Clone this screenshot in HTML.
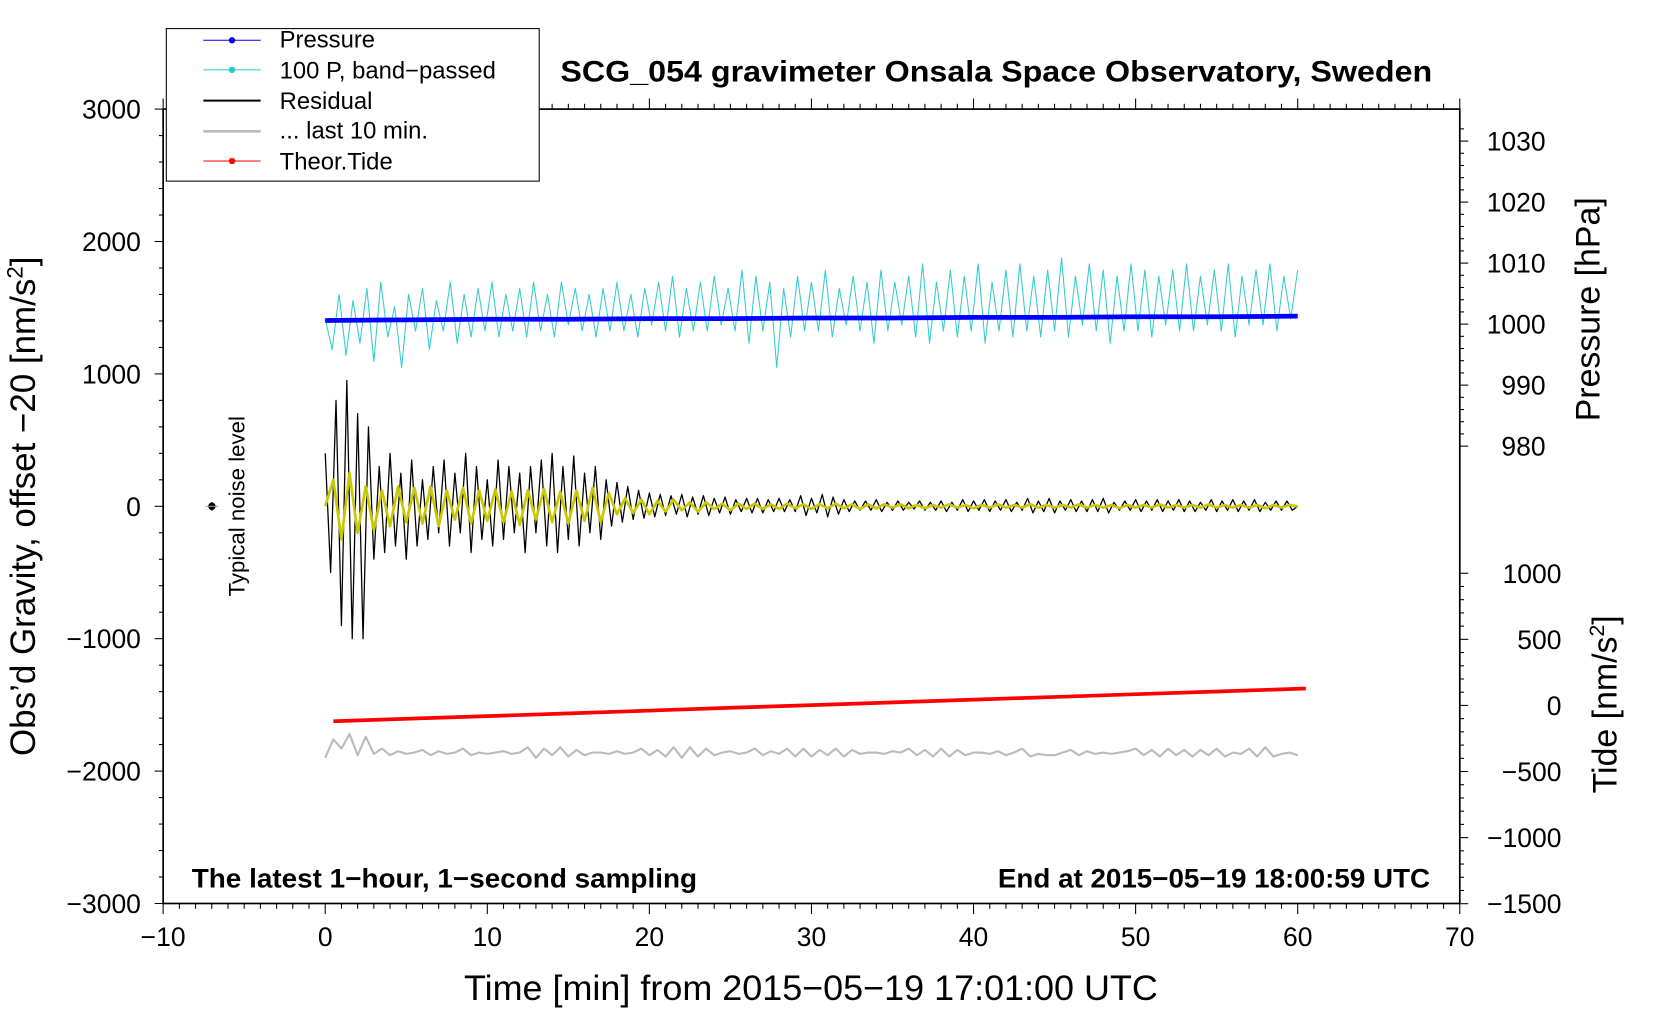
<!DOCTYPE html>
<html><head><meta charset="utf-8"><style>
html,body{margin:0;padding:0;background:#fff}
svg{display:block}
text{font-family:"Liberation Sans",sans-serif}
</style></head><body>
<svg id="chart" width="1660" height="1020" viewBox="0 0 1567 963" preserveAspectRatio="none" xmlns="http://www.w3.org/2000/svg">
<rect x="154" y="103" width="1224" height="750" fill="none" stroke="#000" stroke-width="1.6"/>
<g id="ticks"></g>
<g id="marks"></g>
<text x="529" y="77" font-size="28" font-weight="bold" textLength="823" lengthAdjust="spacingAndGlyphs">SCG_054 gravimeter Onsala Space Observatory, Sweden</text>
<text x="181" y="838" font-size="25" font-weight="bold" textLength="477" lengthAdjust="spacingAndGlyphs">The latest 1−hour, 1−second sampling</text>
<text x="942" y="838" font-size="25" font-weight="bold" textLength="408" lengthAdjust="spacingAndGlyphs">End at 2015−05−19 18:00:59 UTC</text>
<text x="438" y="944" font-size="33" textLength="655" lengthAdjust="spacingAndGlyphs">Time [min] from 2015−05−19 17:01:00 UTC</text>
<text transform="translate(33,478) rotate(-90)" font-size="33" text-anchor="middle">Obs’d Gravity, offset −20 [nm/s<tspan font-size="21" dy="-12">2</tspan><tspan dy="12">]</tspan></text>
<text transform="translate(1510,292) rotate(-90)" font-size="32" text-anchor="middle">Pressure [hPa]</text>
<text transform="translate(1526,665) rotate(-90)" font-size="32" text-anchor="middle">Tide [nm/s<tspan font-size="20" dy="-12">2</tspan><tspan dy="12">]</tspan></text>
<text transform="translate(231,478) rotate(-90)" font-size="21" text-anchor="middle">Typical noise level</text>
<g><line x1="200" y1="474" x2="200" y2="482" stroke="#000" stroke-width="1.5"/><circle cx="200" cy="478" r="3.5" fill="#000"/><line x1="194" y1="478" x2="206" y2="478" stroke="#999" stroke-width="1"/></g>
<g>
<rect x="157" y="27" width="352" height="144" fill="#fff" stroke="#000" stroke-width="1"/>
<g><line x1="192" y1="38" x2="246" y2="38" stroke="#00f" stroke-width="1"/><circle cx="219" cy="38" r="3" fill="#00f"/><text x="264" y="45" font-size="22.5">Pressure</text></g>
<g><line x1="192" y1="66" x2="246" y2="66" stroke="#2cc" stroke-width="1"/><circle cx="219" cy="66" r="3" fill="#2cc"/><text x="264" y="74" font-size="22.5">100 P, band−passed</text></g>
<g><line x1="192" y1="95" x2="246" y2="95" stroke="#000" stroke-width="2"/><text x="264" y="103" font-size="22.5">Residual</text></g>
<g><line x1="192" y1="124" x2="246" y2="124" stroke="#bbb" stroke-width="2.5"/><text x="264" y="131" font-size="22.5">... last 10 min.</text></g>
<g><line x1="192" y1="152" x2="246" y2="152" stroke="#f00" stroke-width="1"/><circle cx="219" cy="152" r="3" fill="#f00"/><text x="264" y="160" font-size="22.5">Theor.Tide</text></g>
</g>
</svg>
<script>
const residual=[400,-500,800,-900,950,-1000,700,-1000,600,-400,
300,-350,400,-300,250,-400,350,-300,200,-250,
300,-200,350,-300,250,-200,400,-350,300,-250,
200,-300,350,-250,300,-200,250,-350,300,-200,
350,-300,400,-350,300,-250,380,-300,250,-200,
300,-250,200,-150,180,-120,150,-100,120,-90,
100,-80,90,-70,80,-60,90,-80,70,-60,
80,-70,60,-50,70,-60,50,-40,60,-50,
60,-50,50,-40,60,-40,50,-40,80,-70,
60,-50,90,-80,70,-60,50,-40,40,-30,
40,-30,50,-40,30,-30,40,-30,30,-20,
40,-30,30,-30,40,-40,30,-30,50,-40,
40,-30,50,-40,40,-30,50,-40,30,-30,
60,-50,40,-40,60,-50,40,-30,50,-40,
40,-40,50,-40,60,-50,30,-30,40,-30,
50,-40,40,-30,50,-40,40,-30,50,-40,
40,-40,30,-30,50,-40,40,-30,50,-40,
40,-30,50,-40,30,-30,40,-30,40,-30,0];
const filtered=[0,200,-250,250,-200,150,-180,120,-150,150,-120,140,-130,150,-150,120,-100,140,-130,120,
-110,130,-120,110,-140,120,-100,130,-120,110,-130,120,-110,140,-120,100,-60,60,-50,50,
-60,40,-40,50,-30,30,-40,30,-20,20,-30,20,-20,20,-20,15,-20,20,-15,15,
-20,15,-15,20,-15,15,-20,15,-15,15,-10,15,-15,10,-15,10,-10,15,-10,10,
-15,10,-10,15,-10,10,-10,15,-10,10,-10,10,-10,15,-10,10,-10,10,-15,10,
-10,10,-10,15,-10,10,-10,10,-10,15,-10,10,-10,10,-10,10,-15,10,-10,10,0];
const bandPassed=[0,-5,4,-6,3,-4,5,-7,6,-3,2,-8,4,-2,5,-5,3,-2,6,-4,
4,-3,5,-2,6,-3,4,-2,5,-3,6,-2,4,-3,6,-1,5,-2,4,-3,
5,-2,6,-2,4,-3,5,-1,6,-2,7,-3,5,-2,6,-2,7,-1,5,-2,
8,-4,7,-2,6,-8,5,-3,7,-2,6,-2,8,-3,5,-1,7,-2,6,-4,
8,-2,6,-1,7,-3,9,-4,6,-2,8,-3,7,-2,9,-4,6,-2,8,-3,
9,-2,7,-3,8,-2,10,-3,7,-1,9,-2,8,-4,7,-2,9,-2,8,-3,
7,-1,8,-2,9,-2,7,-1,8,-2,9,-3,7,-1,8,-1,9,-2,7,0,8];
const lastTen=[-1900,-1760,-1830,-1720,-1880,-1740,-1870,-1830,-1880,-1850,-1870,-1860,-1840,-1880,-1850,-1870,-1860,-1830,-1880,-1860,
-1870,-1860,-1850,-1870,-1860,-1820,-1900,-1830,-1880,-1820,-1890,-1840,-1880,-1860,-1860,-1870,-1850,-1870,-1860,-1830,
-1880,-1840,-1890,-1820,-1900,-1820,-1890,-1830,-1880,-1860,-1850,-1870,-1860,-1830,-1880,-1850,-1870,-1830,-1890,-1830,
-1890,-1840,-1880,-1830,-1890,-1840,-1870,-1860,-1860,-1870,-1850,-1860,-1830,-1880,-1840,-1890,-1830,-1890,-1840,-1880,
-1860,-1860,-1870,-1850,-1880,-1860,-1830,-1890,-1870,-1880,-1880,-1860,-1840,-1880,-1850,-1870,-1860,-1870,-1860,-1850,
-1830,-1880,-1840,-1890,-1830,-1880,-1840,-1890,-1840,-1880,-1830,-1890,-1860,-1870,-1830,-1890,-1820,-1890,-1870,-1860,-1880];
const pressure=[1000.6,1000.7,1000.8,1000.8,1000.9,1000.9,1001.0,1001.0,1001.1,1001.1,1001.2,1001.2,1001.3];
const tide=[-120,-99,-79,-58,-37,-16,4,25,46,66,87,107,128];
const xTicks=[-10,0,10,20,30,40,50,60,70];
const yTicks=[3000,2000,1000,0,-1000,-2000,-3000];
const pTicks=[1030,1020,1010,1000,990,980];
const tTicks=[1000,500,0,-500,-1000,-1500];

const X=t=>154+(t+10)*1224/80;
const Y=g=>478-g*0.125;
const P=p=>306-(p-1000)*5.76;
const BP=v=>301-v*5.76;
const T=v=>666-v*0.1248;
const NS='http://www.w3.org/2000/svg';
const tk=document.getElementById('ticks'), mk=document.getElementById('marks');
function el(tag,attrs,parent){const e=document.createElementNS(NS,tag);for(const k in attrs)e.setAttribute(k,attrs[k]);parent.appendChild(e);return e;}
function line(x1,y1,x2,y2,w){el('line',{x1,y1,x2,y2,stroke:'#000','stroke-width':w||1},tk);}
function label(x,y,s,anchor){const e=el('text',{x,y,'font-size':25,'text-anchor':anchor},tk);e.textContent=s;}
for(let t=-10;t<=70;t++){const major=t%10===0;const len=major?10:5;line(X(t),103,X(t),103-len);line(X(t),853,X(t),853+len);}
xTicks.forEach(t=>label(X(t),893,String(t).replace('-','−'),'middle'));
for(let g=-3000;g<=3000;g+=200){const major=g%1000===0;line(154,Y(g),154-(major?8:4),Y(g));}
yTicks.forEach(g=>label(133,Y(g)+9,String(g).replace('-','−'),'end'));
for(let p=980;p<=1032;p+=2){line(1378,P(p),1378+(p%10===0?8:4),P(p));}
pTicks.forEach(p=>label(1459,P(p)+9,String(p),'end'));
for(let v=-1500;v<=1000;v+=100){line(1378,T(v),1378+(v%500===0?8:4),T(v));}
tTicks.forEach(v=>label(1474,T(v)+9,String(v).replace('-','−'),'end'));

function path(arr,t0,t1,fy,stroke,w,name){
  const step=(t1-t0)/(arr.length-1);
  const d=arr.map((v,i)=>(i?'L':'M')+X(t0+i*step).toFixed(2)+','+fy(v).toFixed(2)).join('');
  const p=el('path',{d,fill:'none',stroke,'stroke-width':w,'stroke-linejoin':'round'},mk);
  
  
}
path(lastTen,0,60,Y,'#bbb',2,'last-10-min-line');
path(tide,0.5,60.5,T,'#f00',3.5,'theor-tide-line');
path(bandPassed,0,60,BP,'#33cccc',1,'band-passed-pressure-line');
path(pressure,0,60,P,'#00f',4.5,'pressure-line');
path(residual,0,60,Y,'#000',1.2,'residual-line');
path(filtered,0,60,Y,'#c8c800',2.5,'filtered-residual-line');
</script>
</body></html>
